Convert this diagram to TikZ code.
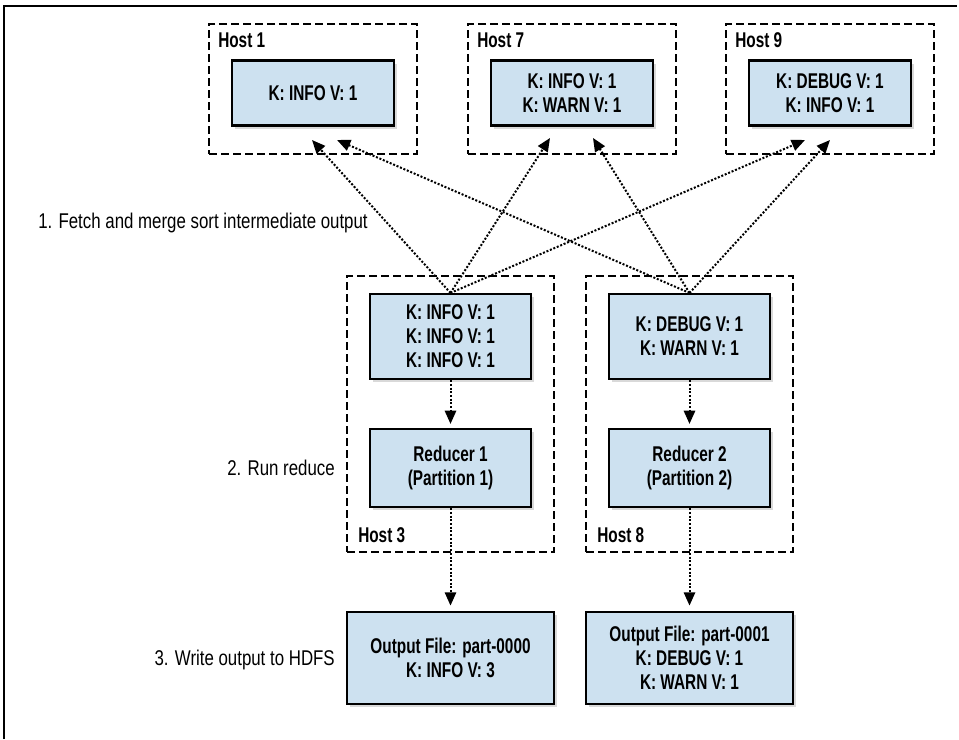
\documentclass[tikz,border=0pt]{standalone}
\usepackage{fontspec}
\setmainfont{Liberation Sans}[FakeStretch=0.79,BoldFeatures={FakeStretch=0.72}]
\usetikzlibrary{arrows.meta,shadows}
\definecolor{boxblue}{RGB}{205,225,240}

\begin{document}
\begin{tikzpicture}[x=0.75pt,y=-0.75pt,
  host/.style={draw=black,line width=1.2pt,dash pattern=on 6pt off 3pt},
  kv/.style={draw=black,line width=1.6pt,fill=boxblue,align=center,
    font=\bfseries\fontsize{16}{18}\selectfont,
    drop shadow={shadow xshift=2.5pt,shadow yshift=-2.5pt,opacity=0.3}},
  hostlbl/.style={font=\bfseries\fontsize{16}{18}\selectfont,inner sep=0pt},
  steplbl/.style={font=\fontsize{16}{18}\selectfont,inner sep=0pt},
  fetch/.style={draw=black,line width=1.5pt,dash pattern=on 1.5pt off 1.3pt,
    -{Triangle[width=8.5pt,length=10pt]}}]
\useasboundingbox (0,0) rectangle (959,739);
\draw[line width=1.2pt] (4,739) -- (4,6) -- (957,6);

\node[host,minimum width=156pt,minimum height=97.5pt] (h1) at (313,89) {};
\node[host,minimum width=156pt,minimum height=97.5pt] (h7) at (572,89) {};
\node[host,minimum width=156pt,minimum height=97.5pt] (h9) at (830,89) {};
\node[hostlbl,anchor=west] (h1l) at (218,40) {Host 1};
\node[hostlbl,anchor=west] (h7l) at (477,40) {Host 7};
\node[hostlbl,anchor=west] (h9l) at (735,40) {Host 9};
\node[kv,minimum width=121.5pt,minimum height=48.75pt] (b1) at (313,93) {K: INFO V: 1};
\node[kv,minimum width=121.5pt,minimum height=48.75pt] (b7) at (572,93) {K: INFO V: 1\\K: WARN V: 1};
\node[kv,minimum width=121.5pt,minimum height=48.75pt] (b9) at (830,93) {K: DEBUG V: 1\\K: INFO V: 1};

\node[host,minimum width=155.25pt,minimum height=207pt] (h3) at (450.5,414) {};
\node[host,minimum width=155.25pt,minimum height=207pt] (h8) at (689.5,414) {};
\node[hostlbl,anchor=west] (h3l) at (358,535) {Host 3};
\node[hostlbl,anchor=west] (h8l) at (597,535) {Host 8};
\node[kv,minimum width=120.75pt,minimum height=63.75pt] (m3) at (450.5,336.5) {K: INFO V: 1\\K: INFO V: 1\\K: INFO V: 1};
\node[kv,minimum width=120.75pt,minimum height=63.75pt] (m8) at (689.5,336.5) {K: DEBUG V: 1\\K: WARN V: 1};
\node[kv,minimum width=120.75pt,minimum height=58.5pt] (r1) at (450.5,468) {Reducer 1\\(Partition 1)};
\node[kv,minimum width=120.75pt,minimum height=58.5pt] (r2) at (689.5,468) {Reducer 2\\(Partition 2)};
\node[kv,minimum width=155.25pt,minimum height=69pt] (o1) at (450.5,658) {Output File: part-0000\\K: INFO V: 3};
\node[kv,minimum width=155.25pt,minimum height=69pt] (o2) at (689.5,658) {Output File: part-0001\\K: DEBUG V: 1\\K: WARN V: 1};

\node[steplbl,anchor=west] (s1) at (38,223) {1. Fetch and merge sort intermediate output};
\node[steplbl,anchor=east] (s2) at (335,468) {2. Run reduce};
\node[steplbl,anchor=east] (s3) at (335,660) {3. Write output to HDFS};

\coordinate (t1a) at (312,140);
\coordinate (t1b) at (337,140);
\coordinate (t7a) at (550,138);
\coordinate (t7b) at (593,138);
\coordinate (t9a) at (805,140);
\coordinate (t9b) at (830,140);

\draw[fetch] (m3.north) -- (t1a);
\draw[fetch] (m3.north) -- (t7a);
\draw[fetch] (m3.north) -- (t9a);
\draw[fetch] (m8.north) -- (t1b);
\draw[fetch] (m8.north) -- (t7b);
\draw[fetch] (m8.north) -- (t9b);
\draw[fetch,shorten >=3pt] (m3) -- (r1);
\draw[fetch,shorten >=3pt] (m8) -- (r2);
\draw[fetch,shorten >=4pt] (r1) -- (o1);
\draw[fetch,shorten >=4pt] (r2) -- (o2);
\end{tikzpicture}
\end{document}
